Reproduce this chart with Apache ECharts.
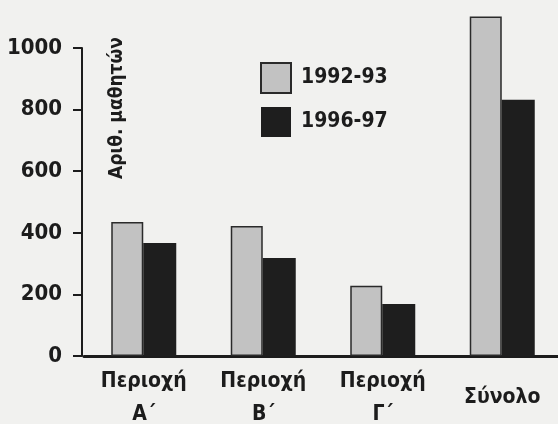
<!DOCTYPE html>
<html>
<head>
<meta charset="utf-8">
<script src="https://cdn.jsdelivr.net/npm/echarts@6/dist/echarts.min.js"></script>
<style>
html,body{margin:0;padding:0;background:#f1f1ef;}
#c{width:558px;height:424px;}
</style>
</head>
<body>
<div id="c"></div>
<script>
const categories = ['Περιοχή\nΑ΄', 'Περιοχή\nΒ΄', 'Περιοχή\nΓ΄', 'Σύνολο'];
const seriesNames = ['1992-93', '1996-97'];
const values1992 = [435, 422, 228, 1102];
const values1996 = [367, 318, 169, 832];
const yTicks = [0, 200, 400, 600, 800, 1000];
const yAxisTitle = 'Αριθ. μαθητών';

const FONT = "'DejaVu Sans Condensed', 'Liberation Sans', sans-serif";
const INK = '#1c1c1c';

const chart = echarts.init(document.getElementById('c'));
chart.setOption({
  backgroundColor: '#f1f1ef',
  animation: false,
  grid: { left: 84, top: 48, width: 478, bottom: 68, containLabel: false, outerBoundsMode: 'none' },
  legend: {
    orient: 'vertical', left: 255, top: 57,
    itemWidth: 30, itemHeight: 30, itemGap: 13, icon: 'rect',
    data: seriesNames,
    textStyle: { fontFamily: FONT, fontWeight: 'bold', fontSize: 21, color: INK, padding: [0, 0, 0, 5] }
  },
  xAxis: {
    type: 'category', data: categories,
    axisLine: { lineStyle: { color: INK, width: 3 } },
    axisTick: { show: false },
    axisLabel: { fontFamily: FONT, fontWeight: 'bold', fontSize: 21, lineHeight: 33, color: INK,
                 margin: 42, verticalAlign: 'middle', interval: 0 }
  },
  yAxis: {
    type: 'value', position: 'left', min: yTicks[0], max: yTicks[yTicks.length - 1], interval: 200, offset: 2,
    axisLine: { show: true, lineStyle: { color: INK, width: 2 } },
    axisTick: { show: true, inside: false, length: 9, lineStyle: { color: INK, width: 2 } },
    axisLabel: { fontFamily: FONT, fontWeight: 'bold', fontSize: 22, color: INK, margin: 20,
                 formatter: v => String(v) },
    splitLine: { show: false }
  },
  graphic: [{
    type: 'text', x: 117, y: 108, rotation: Math.PI / 2,
    style: { text: yAxisTitle, fontFamily: FONT, fontWeight: 'bold', fontSize: 19, fill: INK,
             textAlign: 'center', textVerticalAlign: 'middle' }
  }],
  series: [{
    name: seriesNames[0], type: 'bar', data: values1992, barWidth: 32, barGap: '0%', clip: false,
    itemStyle: { color: '#c2c2c2', borderColor: '#2a2a2a', borderWidth: 1.5 }
  }, {
    name: seriesNames[1], type: 'bar', data: values1996, barWidth: 33, barGap: '0%', clip: false,
    itemStyle: { color: '#1e1e1e' }
  }]
});
</script>
</body>
</html>
